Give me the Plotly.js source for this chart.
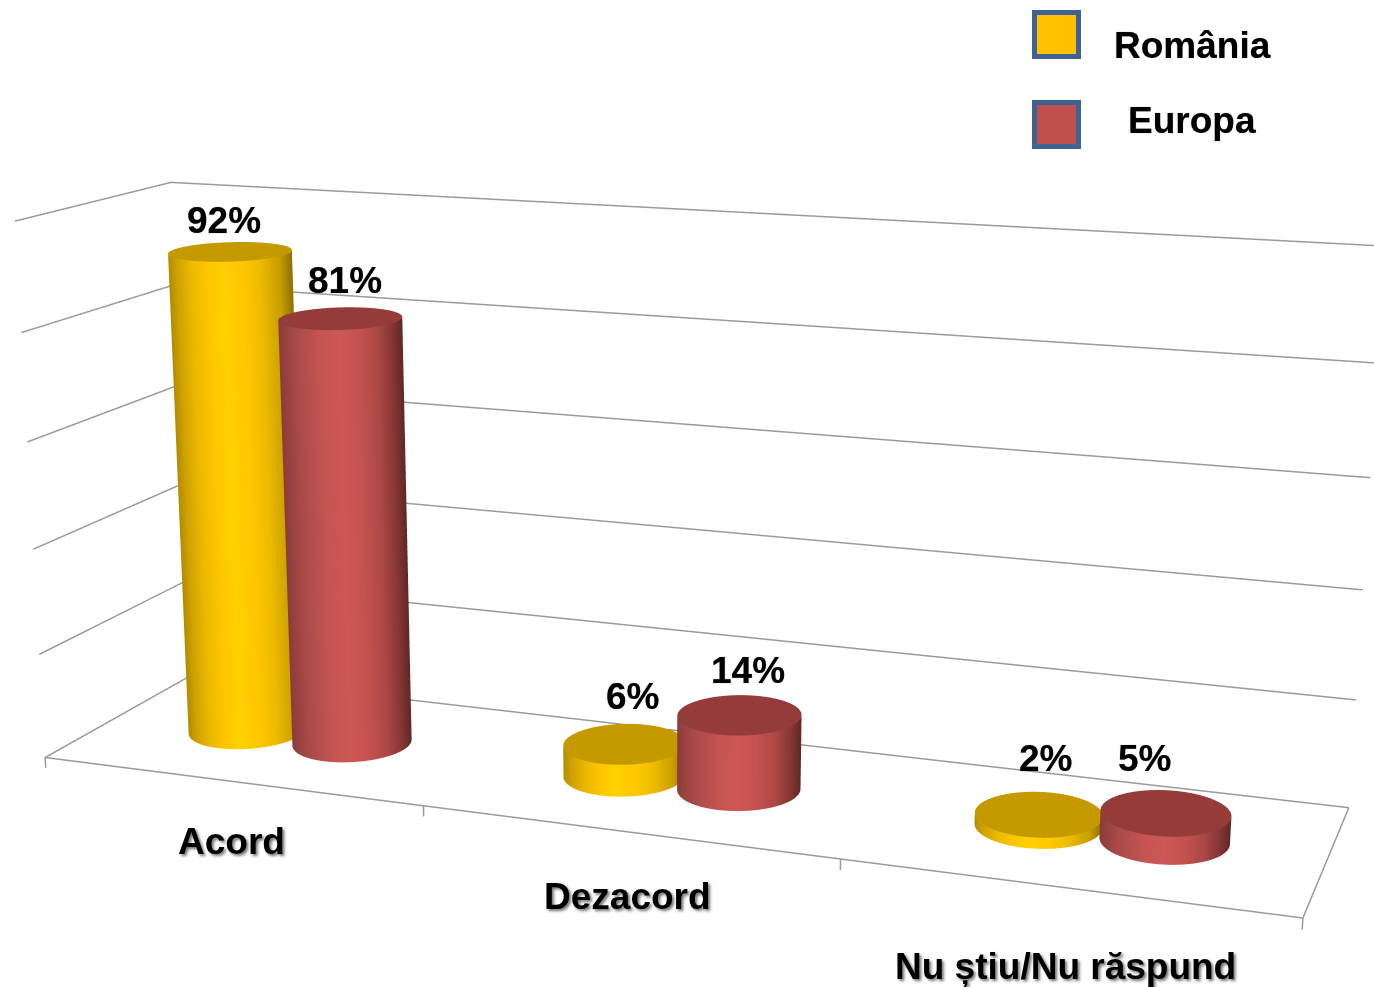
<!DOCTYPE html>
<html><head><meta charset="utf-8">
<script src="https://cdn.plot.ly/plotly-3.0.1.min.js"></script>
<style>html,body{margin:0;padding:0;width:1374px;height:987px;overflow:hidden;background:#fff}
#chart{position:absolute;left:-82px;top:-644px}</style></head>
<body><div id="chart"></div>
<script>
const categories = ['Acord','Dezacord','Nu știu/Nu răspund'];
const seriesNames = ['România','Europa'];
const romania = [92,6,2];
const europa = [81,14,5];
const gridValues = [0,20,40,60,80,100];
const W=1500,H=2434,LEFT=-82,TOP=-644;
const FONT='"Liberation Sans", Arial, sans-serif';
const aspect={x:2.312,y:0.558,z:1.035};
const zMin=-3,zMax=100.5;
const eye={x:1.702,y:-4.755,z:1.2635};
const rx=0.143, ry=rx*(aspect.x/3)/0.5423*1.05, barShift=0;
const sideA=[[0,'#B08A00'],[0.08,'#CFA200'],[0.2,'#EDB900'],[0.35,'#FFC800'],[0.45,'#FFD000'],[0.6,'#FFC800'],[0.75,'#EEBB00'],[0.9,'#C89E00'],[1,'#8F7000']];
const sideB=[[0,'#8A3C3A'],[0.15,'#A84A48'],[0.35,'#C45452'],[0.5,'#CE5757'],[0.65,'#C45250'],[0.8,'#AC4846'],[0.92,'#843634'],[1,'#602826']];
const capA='#C49A00', capB='#953B3A';
const GRID='#9a9a9a';
const N=96;
function thetas(){const t=[];for(let i=0;i<=N;i++)t.push(2*Math.PI*i/N);return t;}
function cylinder(cx,val,scale,cap,name){
  const th=thetas();
  const dx=eye.x-(cx/3-0.5)*aspect.x, dy=eye.y, dl=Math.hypot(dx,dy);
  const rDir=[-dy/dl,dx/dl];
  const side={type:'surface',name,showscale:false,hoverinfo:'skip',cmin:-1,cmax:1,colorscale:scale,
    lighting:{ambient:1,diffuse:0,specular:0,roughness:1,fresnel:0},
    x:[th.map(t=>cx+rx*Math.cos(t)),th.map(t=>cx+rx*Math.cos(t))],
    y:[th.map(t=>0.5+ry*Math.sin(t)),th.map(t=>0.5+ry*Math.sin(t))],
    z:[th.map(()=>0),th.map(()=>val)],
    surfacecolor:[0,1].map(()=>th.map(t=>Math.cos(t)*rDir[0]+Math.sin(t)*rDir[1]))};
  const rs=[0,1];
  const top={type:'surface',name,showscale:false,hoverinfo:'skip',cmin:0,cmax:1,colorscale:[[0,cap],[1,cap]],
    lighting:{ambient:1,diffuse:0,specular:0,roughness:1,fresnel:0},
    x:rs.map(r=>th.map(t=>cx+r*rx*Math.cos(t))),
    y:rs.map(r=>th.map(t=>0.5+r*ry*Math.sin(t))),
    z:rs.map(()=>th.map(()=>val)),
    surfacecolor:rs.map(()=>th.map(()=>0.5))};
  return [side,top];
}
const traces=[];
categories.forEach((c,i)=>{
  traces.push(...cylinder(i+0.5-rx+barShift,romania[i],sideA,capA,seriesNames[0]));
  traces.push(...cylinder(i+0.5+rx+barShift,europa[i],sideB,capB,seriesNames[1]));
});
function line(xs,ys,zs){return {type:'scatter3d',mode:'lines',x:xs,y:ys,z:zs,hoverinfo:'skip',showlegend:false,line:{color:GRID,width:3}};}
gridValues.forEach(v=>traces.push(line([0,0,3],[0,1,1],[v,v,v])));
traces.push(line([0,3,3],[0,0,1],[0,0,0]));
[0,1,2,3].forEach(t=>traces.push(line([t,t],[0,0],[0,-2])));

const labOffA=[[-6,31],[8,47],[7,56]];
const labOffB=[[5,38],[9,44],[-21,54]];
const catShift=[[2,-60],[1,-65],[0,-79]];
const softText='0 0 1px rgba(0,0,0,0.6)';
const anns=[];
categories.forEach((c,i)=>{
  anns.push({x:i+0.5-rx+barShift,y:0.5,z:romania[i],text:romania[i]+'%',showarrow:false,xshift:labOffA[i][0],yshift:labOffA[i][1],xanchor:'center',yanchor:'middle',font:{family:FONT,size:37,color:'#000',weight:700,shadow:softText}});
  anns.push({x:i+0.5+rx+barShift,y:0.5,z:europa[i],text:europa[i]+'%',showarrow:false,xshift:labOffB[i][0],yshift:labOffB[i][1],xanchor:'center',yanchor:'middle',font:{family:FONT,size:37,color:'#000',weight:700,shadow:softText}});
  anns.push({x:i+0.5,y:0,z:0,text:c,showarrow:false,xshift:catShift[i][0],yshift:catShift[i][1],xanchor:'center',yanchor:'middle',font:{family:FONT,size:37,color:'#000',weight:700,shadow:'2px 2px 3px rgba(0,0,0,0.55)'}});
});
const px=x=>(x-LEFT)/W, py=y=>1-(y-TOP)/H;
const axisBase={showgrid:false,showline:false,zeroline:false,showticklabels:false,ticks:'',showbackground:false,showspikes:false,title:{text:''}};
const layout={width:W,height:H,margin:{l:0,r:0,t:0,b:0},paper_bgcolor:'#fff',showlegend:false,
  scene:{domain:{x:[0,1],y:[0,1]},aspectmode:'manual',aspectratio:aspect,bgcolor:'rgba(0,0,0,0)',
    camera:{eye:eye,center:{x:-0.014,y:-0.034,z:-0.0875},up:{x:-0.0902,y:0.2434,z:0.9657},projection:{type:'perspective'}},
    xaxis:Object.assign({},axisBase,{range:[0,3]}),
    yaxis:Object.assign({},axisBase,{range:[0,1]}),
    zaxis:Object.assign({},axisBase,{range:[zMin,zMax],tickvals:gridValues,tickmode:'array'}),
    annotations:anns},
  shapes:[
    {type:'rect',xref:'paper',yref:'paper',x0:px(1034.5),x1:px(1078.5),y0:py(12.5),y1:py(56.5),fillcolor:'#FFC000',line:{color:'#3E6293',width:5}},
    {type:'rect',xref:'paper',yref:'paper',x0:px(1034.5),x1:px(1078.5),y0:py(102.5),y1:py(146.5),fillcolor:'#C0504D',line:{color:'#3E6293',width:5}}],
  annotations:[
    {xref:'paper',yref:'paper',x:px(1192),y:py(45.5),text:seriesNames[0],showarrow:false,xanchor:'center',yanchor:'middle',font:{family:FONT,size:37,color:'#000',weight:700,shadow:softText}},
    {xref:'paper',yref:'paper',x:px(1192),y:py(120.5),text:seriesNames[1],showarrow:false,xanchor:'center',yanchor:'middle',font:{family:FONT,size:37,color:'#000',weight:700,shadow:softText}}]
};
Plotly.newPlot('chart',traces,layout,{displayModeBar:false,responsive:false});
</script></body></html>
